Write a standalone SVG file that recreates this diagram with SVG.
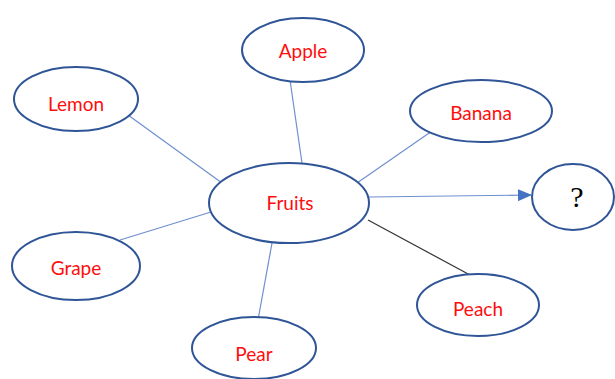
<svg xmlns="http://www.w3.org/2000/svg" width="615" height="379" viewBox="0 0 615 379">
<defs>
<style>
.n{fill:#fff;stroke:#2F5597;stroke-width:2}
.t{fill:#FF0D0D;font-family:"Lato","Liberation Sans",sans-serif;font-size:19px;text-anchor:middle;dominant-baseline:central}
.c{stroke:#6F8FCF;stroke-width:1.2;fill:none}
</style>
<marker id="ah" markerWidth="14" markerHeight="12" refX="13" refY="6" orient="auto" markerUnits="userSpaceOnUse">
<path d="M0,0 L14,6 L0,12 Z" fill="#4472C4"/>
</marker>
</defs>
<rect width="615" height="379" fill="#fff"/>
<g id="connectors">
<line class="c" x1="128" y1="115" x2="222" y2="183"/>
<line class="c" x1="290" y1="80" x2="302" y2="163"/>
<line class="c" x1="432" y1="131" x2="357" y2="183"/>
<line class="c" x1="120" y1="240" x2="211" y2="212"/>
<line class="c" x1="258" y1="320" x2="272" y2="243"/>
<line x1="368" y1="220" x2="470" y2="275" stroke="#333" stroke-width="1.2"/>
<line class="c" x1="369" y1="197" x2="531" y2="195" stroke="#4472C4" stroke-width="1.6" marker-end="url(#ah)"/>
</g>
<g id="fruits"><ellipse class="n" cx="289" cy="203" rx="80" ry="40"/><text class="t" x="290" y="202">Fruits</text></g>
<g id="lemon"><ellipse class="n" cx="76" cy="99" rx="62" ry="32"/><text class="t" x="76" y="103">Lemon</text></g>
<g id="apple"><ellipse class="n" cx="303" cy="50" rx="61" ry="32"/><text class="t" x="303" y="50">Apple</text></g>
<g id="banana"><ellipse class="n" cx="481" cy="111" rx="71" ry="31"/><text class="t" x="481" y="112">Banana</text></g>
<g id="grape"><ellipse class="n" cx="76" cy="266" rx="64" ry="34"/><text class="t" x="76" y="267">Grape</text></g>
<g id="pear"><ellipse class="n" cx="254" cy="348" rx="62" ry="31"/><text class="t" x="254" y="353">Pear</text></g>
<g id="peach"><ellipse class="n" cx="478" cy="305" rx="61" ry="31"/><text class="t" x="478" y="308">Peach</text></g>
<g id="unknown"><ellipse class="n" cx="573" cy="197" rx="41" ry="33"/><text x="577" y="196" font-family="Liberation Serif,serif" font-size="30" text-anchor="middle" dominant-baseline="central" fill="#000">?</text></g>
</svg>
